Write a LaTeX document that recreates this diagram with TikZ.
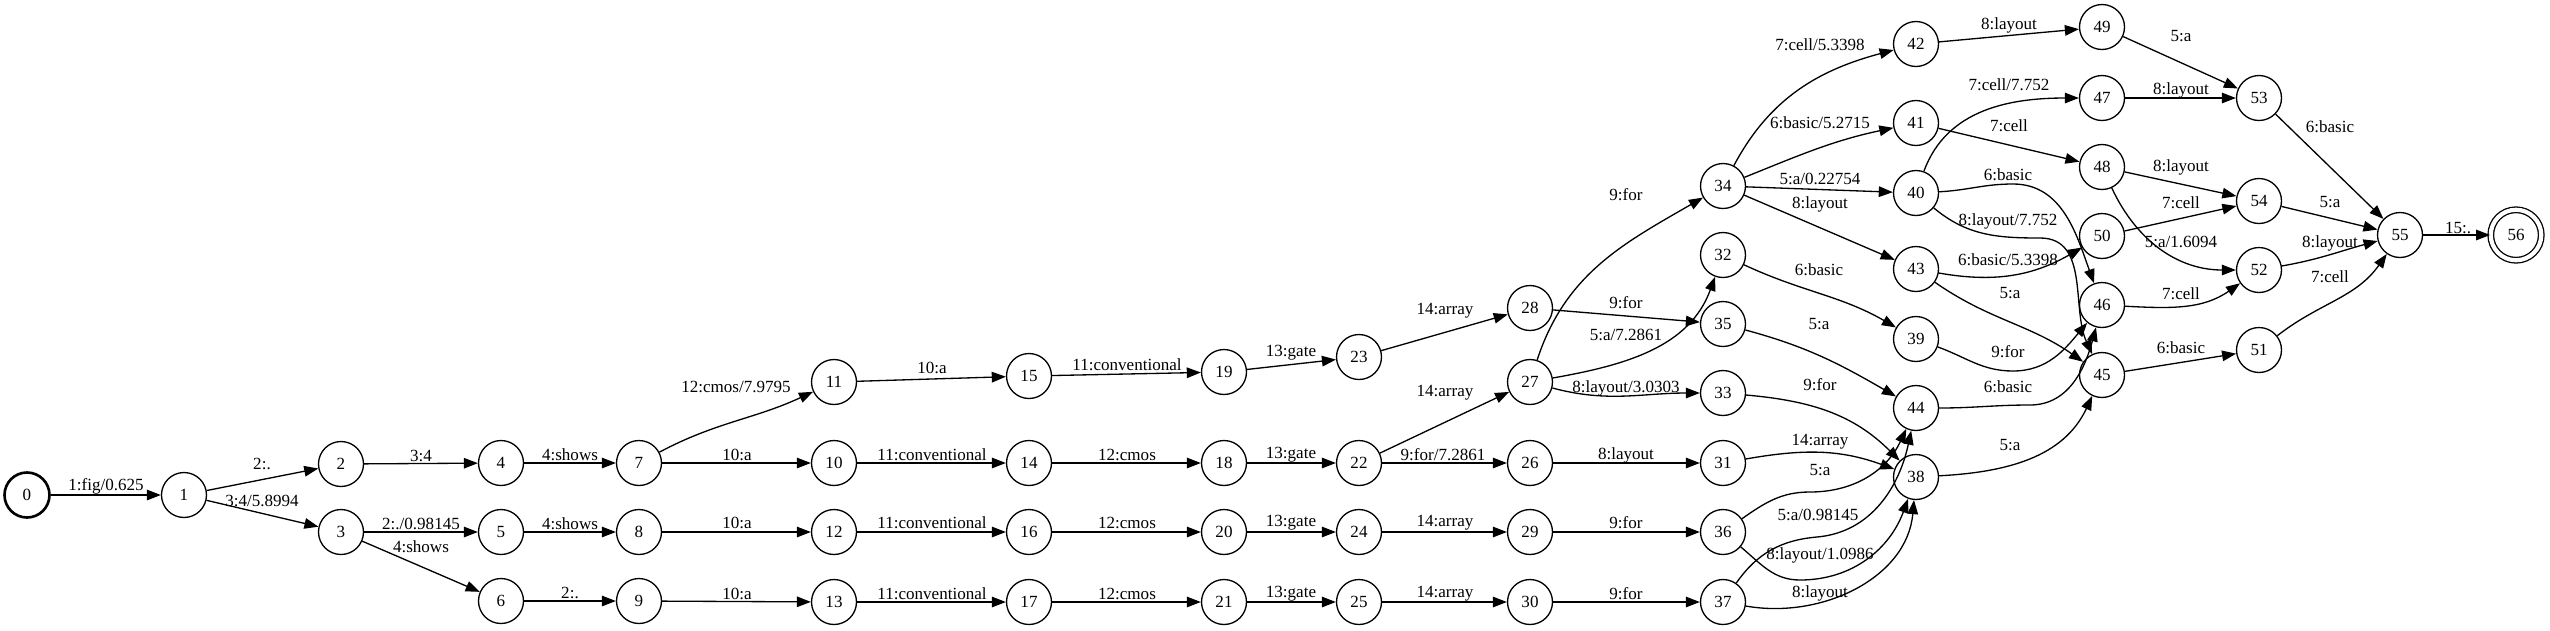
\documentclass[tikz,border=0pt]{standalone}
\usepackage{fontspec}
\setmainfont{Liberation Serif}[Ligatures=CommonOff]
\usetikzlibrary{arrows.meta}

\begin{document}
\begin{tikzpicture}[x=0.02cm, y=0.02cm, font=\fontsize{9.7}{11}\selectfont,
  state/.style={draw, circle, line width=0.75pt, minimum size=0.9cm, inner sep=0pt},
  lbl/.style={inner sep=0pt},
  edge/.style={line width=0.75pt, -{Triangle[length=8pt,width=6pt]}}]
  \useasboundingbox (0,0) rectangle (2550,-630);
  \node[state, line width=1.5pt](0) at (27,-495){0};
  \node[state](1) at (184,-495){1};
  \node[state](2) at (341,-464){2};
  \node[state](3) at (341,-532){3};
  \node[state](4) at (501,-463){4};
  \node[state](5) at (501,-532){5};
  \node[state](6) at (501,-601){6};
  \node[state](7) at (639,-463){7};
  \node[state](8) at (639,-532){8};
  \node[state](9) at (639,-601){9};
  \node[state](10) at (834,-463){10};
  \node[state](11) at (834,-382){11};
  \node[state](12) at (834,-532){12};
  \node[state](13) at (834,-602){13};
  \node[state](14) at (1029,-463){14};
  \node[state](15) at (1029,-376){15};
  \node[state](16) at (1029,-532){16};
  \node[state](17) at (1029,-602){17};
  \node[state](18) at (1224,-463){18};
  \node[state](19) at (1224,-372){19};
  \node[state](20) at (1224,-532){20};
  \node[state](21) at (1224,-602){21};
  \node[state](22) at (1359,-463){22};
  \node[state](23) at (1359,-357){23};
  \node[state](24) at (1359,-532){24};
  \node[state](25) at (1359,-602){25};
  \node[state](26) at (1530,-463){26};
  \node[state](27) at (1530,-382){27};
  \node[state](28) at (1530,-308){28};
  \node[state](29) at (1530,-532){29};
  \node[state](30) at (1530,-602){30};
  \node[state](31) at (1723,-463){31};
  \node[state](32) at (1723,-255){32};
  \node[state](33) at (1723,-393){33};
  \node[state](34) at (1723,-186){34};
  \node[state](35) at (1723,-324){35};
  \node[state](36) at (1723,-532){36};
  \node[state](37) at (1723,-602){37};
  \node[state](38) at (1916,-477){38};
  \node[state](39) at (1916,-339){39};
  \node[state](40) at (1916,-193){40};
  \node[state](41) at (1916,-123){41};
  \node[state](42) at (1916,-44){42};
  \node[state](43) at (1916,-269){43};
  \node[state](44) at (1916,-408){44};
  \node[state](45) at (2102,-375){45};
  \node[state](46) at (2102,-305){46};
  \node[state](47) at (2102,-98){47};
  \node[state](48) at (2102,-167){48};
  \node[state](49) at (2102,-27){49};
  \node[state](50) at (2102,-236){50};
  \node[state](51) at (2259,-350){51};
  \node[state](52) at (2259,-270){52};
  \node[state](53) at (2259,-98){53};
  \node[state](54) at (2259,-201){54};
  \node[state](55) at (2400,-235){55};
  \node[state, minimum size=1.01cm, double, double distance=0.084cm](56) at (2516,-235){56};
  \draw[edge] (0)--(1) node[lbl] at (106,-486){1:fig/0.625};
  \draw[edge] (1)--(2) node[lbl] at (262,-464){2:.};
  \draw[edge] (1)--(3) node[lbl] at (262,-501){3:4/5.8994};
  \draw[edge] (2)--(4) node[lbl] at (421,-456){3:4};
  \draw[edge] (3)--(5) node[lbl] at (421,-524){2:./0.98145};
  \draw[edge] (3)--(6) node[lbl] at (421,-547){4:shows};
  \draw[edge] (4)--(7) node[lbl] at (570,-455){4:shows};
  \draw[edge] (5)--(8) node[lbl] at (570,-524){4:shows};
  \draw[edge] (6)--(9) node[lbl] at (570,-593){2:.};
  \draw[edge] (7) to[out=28,in=205] (11) node[lbl] at (736,-387){12:cmos/7.9795};
  \draw[edge] (7)--(10) node[lbl] at (737,-455){10:a};
  \draw[edge] (8)--(12) node[lbl] at (737,-523){10:a};
  \draw[edge] (9)--(13) node[lbl] at (737,-594){10:a};
  \draw[edge] (11)--(15) node[lbl] at (932,-368){10:a};
  \draw[edge] (10)--(14) node[lbl] at (932,-455){11:conventional};
  \draw[edge] (12)--(16) node[lbl] at (932,-523){11:conventional};
  \draw[edge] (13)--(17) node[lbl] at (932,-594){11:conventional};
  \draw[edge] (15)--(19) node[lbl] at (1127,-365){11:conventional};
  \draw[edge] (14)--(18) node[lbl] at (1127,-455){12:cmos};
  \draw[edge] (16)--(20) node[lbl] at (1127,-523){12:cmos};
  \draw[edge] (17)--(21) node[lbl] at (1127,-594){12:cmos};
  \draw[edge] (19)--(23) node[lbl] at (1291,-353){13:gate};
  \draw[edge] (18)--(22) node[lbl] at (1291,-455){13:gate};
  \draw[edge] (20)--(24) node[lbl] at (1291,-523){13:gate};
  \draw[edge] (21)--(25) node[lbl] at (1291,-594){13:gate};
  \draw[edge] (23)--(28) node[lbl] at (1445,-311){14:array};
  \draw[edge] (22)--(27) node[lbl] at (1445,-393){14:array};
  \draw[edge] (22)--(26) node[lbl] at (1443,-455){9:for/7.2861};
  \draw[edge] (24)--(29) node[lbl] at (1445,-523){14:array};
  \draw[edge] (25)--(30) node[lbl] at (1445,-594){14:array};
  \draw[edge] (28)--(35) node[lbl] at (1626,-303){9:for};
  \draw[edge] (27) to[out=72,in=210] (34) node[lbl] at (1626,-195){9:for};
  \draw[edge] (27) to[out=10,in=250] (32) node[lbl] at (1626,-335){5:a/7.2861};
  \draw[edge] (27) to[out=-15,in=180] (33) node[lbl] at (1626,-388){8:layout/3.0303};
  \draw[edge] (26)--(31) node[lbl] at (1626,-455){8:layout};
  \draw[edge] (29)--(36) node[lbl] at (1626,-523){9:for};
  \draw[edge] (30)--(37) node[lbl] at (1626,-594){9:for};
  \draw[edge] (34) to[out=62,in=195] (42) node[lbl] at (1820,-45){7:cell/5.3398};
  \draw[edge] (34) to[out=22,in=192] (41) node[lbl] at (1820,-123){6:basic/5.2715};
  \draw[edge] (34)--(40) node[lbl] at (1820,-179){5:a/0.22754};
  \draw[edge] (34)--(43) node[lbl] at (1820,-204){8:layout};
  \draw[edge] (32) to[out=-25,in=150] (39) node[lbl] at (1819,-270){6:basic};
  \draw[edge] (35) to[out=-15,in=150] (44) node[lbl] at (1819,-324){5:a};
  \draw[edge] (33) to[out=-5,in=135] (38) node[lbl] at (1820,-385){9:for};
  \draw[edge] (31) to[out=10,in=160] (38) node[lbl] at (1820,-442){14:array};
  \draw[edge] (36) to[out=35,in=180] (1810,-492) to[out=0,in=245] (44) node[lbl] at (1820,-470){5:a};
  \draw[edge] (37) to[out=55,in=185] (1817,-537) to[out=5,in=258] (44) node[lbl] at (1818,-515){5:a/0.98145};
  \draw[edge] (36) to[out=-40,in=180] (1800,-580) to[out=0,in=250] (38) node[lbl] at (1820,-555){8:layout/1.0986};
  \draw[edge] (37) to[out=-10,in=265] (38) node[lbl] at (1820,-593){8:layout};
  \draw[edge] (42)--(49) node[lbl] at (2009,-25){8:layout};
  \draw[edge] (40) to[out=70,in=180] (47) node[lbl] at (2009,-85){7:cell/7.752};
  \draw[edge] (41)--(48) node[lbl] at (2009,-126){7:cell};
  \draw[edge] (40) to[out=3,in=180] (2013,-184) to[out=0,in=110] (46) node[lbl] at (2008,-175){6:basic};
  \draw[edge] (40) to[out=-40,in=180] (2040,-238) to[out=0,in=115] (45) node[lbl] at (2008,-221){8:layout/7.752};
  \draw[edge] (43) to[out=-10,in=210] (50) node[lbl] at (2008,-260){6:basic/5.3398};
  \draw[edge] (43) to[out=-35,in=145] (45) node[lbl] at (2010,-293){5:a};
  \draw[edge] (39) to[out=-20,in=180] (2013,-371) to[out=0,in=230] (46) node[lbl] at (2008,-352){9:for};
  \draw[edge] (44) to[out=0,in=180] (2030,-405) to[out=0,in=255] (46) node[lbl] at (2008,-387){6:basic};
  \draw[edge] (38) to[out=3,in=245] (45) node[lbl] at (2010,-445){5:a};
  \draw[edge] (49)--(53) node[lbl] at (2181,-36){5:a};
  \draw[edge] (47)--(53) node[lbl] at (2181,-90){8:layout};
  \draw[edge] (48)--(54) node[lbl] at (2181,-167){8:layout};
  \draw[edge] (50)--(54) node[lbl] at (2181,-203){7:cell};
  \draw[edge] (48) to[out=-65,in=180] (52) node[lbl] at (2181,-242){5:a/1.6094};
  \draw[edge] (46) to[out=-3,in=215] (52) node[lbl] at (2181,-294){7:cell};
  \draw[edge] (45)--(51) node[lbl] at (2181,-348){6:basic};
  \draw[edge] (53)--(55) node[lbl] at (2330,-127){6:basic};
  \draw[edge] (54)--(55) node[lbl] at (2330,-202){5:a};
  \draw[edge] (52) to[out=10,in=195] (55) node[lbl] at (2330,-243){8:layout};
  \draw[edge] (51) to[out=38,in=235] (55) node[lbl] at (2330,-277){7:cell};
  \draw[edge] (55)--(56) node[lbl] at (2458,-228){15:.};
\end{tikzpicture}
\end{document}
